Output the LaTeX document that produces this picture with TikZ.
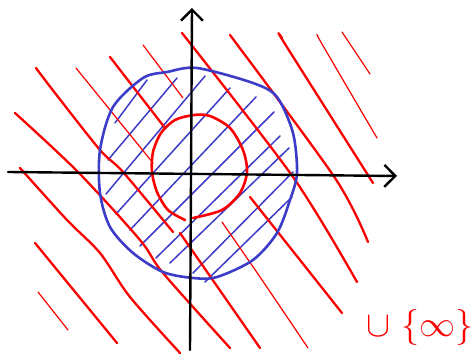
\documentclass[tikz,border=0pt]{standalone}
\usepackage{amsmath,amssymb}
\usetikzlibrary{arrows.meta}
\definecolor{penblue}{RGB}{60,60,200}
\definecolor{penred}{RGB}{250,0,0}
\begin{document}
\begin{tikzpicture}[x=1pt,y=-1pt, line cap=round, line join=round,
	axis/.style={line width=2.4pt, -{Straight Barb[length=11pt,width=22pt]}},
	redthick/.style={penred, line width=2.3pt},
	redthin/.style={penred, line width=1.2pt},
	hatch/.style={penblue, line width=1.5pt}]
	\useasboundingbox (0,0) rectangle (475,355);
	% blue hatching inside the big circle
	\foreach \xa/\ya/\xb/\yb in {115/123/147/80, 108/160/177/78, 106/194/205/76, 116/214/230/88, 130/230/256/97,
		140/246/274/112, 156/258/280/136, 170/263/289/148, 193/273/293/172, 205/282/292/197}
		{\draw[hatch] (\xa,\ya) -- (\xb,\yb);}
	% red hatching outside the small circle
	\draw[redthin] plot[smooth] coordinates {(342,32) (370,74)};
	\draw[redthin] plot[smooth] coordinates {(318,36) (322,44) (377,138)};
	\draw[redthick] plot[smooth] coordinates {(282,38) (285,44) (373,183)};
	\draw[redthick] plot[smooth] coordinates {(230,35) (335,178) (368,242)};
	\draw[redthick] plot[smooth] coordinates {(182,33) (293,177) (357,282)};
	\draw[redthin] plot[smooth] coordinates {(143,45) (183,98)};
	\draw[redthick] plot[smooth] coordinates {(110,57) (165,128)};
	\draw[redthin] plot[smooth] coordinates {(76,68) (153,163)};
	\draw[redthick] plot[smooth] coordinates {(36,68) (55,93) (100,150) (123,172) (173,232)};
	\draw[redthick] plot[smooth] coordinates {(15,113) (78,172) (140,240) (163,273) (230,348)};
	\draw[redthick] plot[smooth] coordinates {(20,168) (67,220) (100,253) (130,297) (180,353)};
	\draw[redthick] plot[smooth] coordinates {(35,243) (117,343)};
	\draw[redthin] plot[smooth] coordinates {(38,292) (68,330)};
	\draw[redthick] plot[smooth] coordinates {(180,233) (260,348)};
	\draw[redthin] plot[smooth] coordinates {(222,222) (260,277) (308,348)};
	\draw[redthick] plot[smooth] coordinates {(250,197) (342,313)};
	% the two circles
	\draw[penblue, line width=2.6pt] plot[smooth cycle] coordinates {(197,68) (253,83) (277,97) (293,133) (297,173)
		(290,200) (277,233) (253,260) (217,277) (193,278) (163,272) (133,253) (110,227) (100,193) (100,150)
		(113,107) (143,78) (167,72)};
	\draw[penred, line width=2.6pt] plot[smooth] coordinates {(193,218) (222,210) (240,193) (247,172)
		(243,150) (230,128) (210,116) (194,115) (175,120) (161,133) (153,152) (152,172) (157,192) (168,210) (185,220)};
	% axes
	\draw[axis] (8,172) -- (397,176);
	\draw[axis] (190,350) -- (192,8);
	\node[penred, scale=3.6] (extra) at (420,328) {$\cup\ \{\infty\}$};
\end{tikzpicture}
\end{document}
